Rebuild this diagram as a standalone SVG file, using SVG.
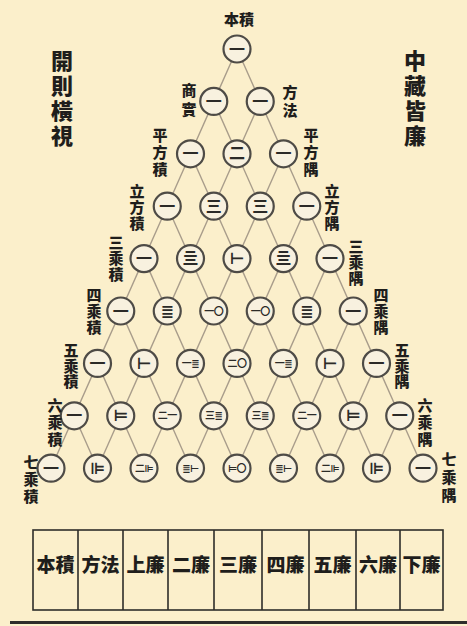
<svg xmlns="http://www.w3.org/2000/svg" width="467" height="626" viewBox="0 0 467 626">
<style>
.edge{stroke:#a99d8b;stroke-width:1.4;fill:none}
.ring{fill:#f8f1df;stroke:#4e4b46;stroke-width:2.2}
.num{font-family:"Noto Sans CJK SC","DejaVu Sans",sans-serif;fill:#2b2a28;text-anchor:middle;font-weight:700}
.s{font-size:16px}
.t{font-size:10px;letter-spacing:-0.5px}
.lbl{font-family:"Noto Sans CJK TC","Noto Sans CJK SC",sans-serif;font-weight:900;fill:#1f1e1c;text-anchor:middle;font-size:15px}
.v{writing-mode:vertical-rl;text-anchor:start}
.hd{font-size:22px;letter-spacing:3px}
.cell{font-size:19px}
.box{fill:none;stroke:#2e2d2a;stroke-width:1.6}
</style>
<defs>
<path id="fork" d="M0 0L-23.25 52.4M0 0L23.25 52.4"/>
<circle id="ring" r="13.5" class="ring"/>
</defs>
<rect width="467" height="626" fill="#fbefcb"/>

<g id="connectors" class="edge">
<use href="#fork" x="237" y="49"/>
<use href="#fork" x="213.75" y="101.4"/><use href="#fork" x="260.25" y="101.4"/>
<use href="#fork" x="190.5" y="153.8"/><use href="#fork" x="237" y="153.8"/><use href="#fork" x="283.5" y="153.8"/>
<use href="#fork" x="167.25" y="206.2"/><use href="#fork" x="213.75" y="206.2"/><use href="#fork" x="260.25" y="206.2"/><use href="#fork" x="306.75" y="206.2"/>
<use href="#fork" x="144" y="258.6"/><use href="#fork" x="190.5" y="258.6"/><use href="#fork" x="237" y="258.6"/><use href="#fork" x="283.5" y="258.6"/><use href="#fork" x="330" y="258.6"/>
<use href="#fork" x="120.75" y="311"/><use href="#fork" x="167.25" y="311"/><use href="#fork" x="213.75" y="311"/><use href="#fork" x="260.25" y="311"/><use href="#fork" x="306.75" y="311"/><use href="#fork" x="353.25" y="311"/>
<use href="#fork" x="97.5" y="363.4"/><use href="#fork" x="144" y="363.4"/><use href="#fork" x="190.5" y="363.4"/><use href="#fork" x="237" y="363.4"/><use href="#fork" x="283.5" y="363.4"/><use href="#fork" x="330" y="363.4"/><use href="#fork" x="376.5" y="363.4"/>
<use href="#fork" x="74.25" y="415.8"/><use href="#fork" x="120.75" y="415.8"/><use href="#fork" x="167.25" y="415.8"/><use href="#fork" x="213.75" y="415.8"/><use href="#fork" x="260.25" y="415.8"/><use href="#fork" x="306.75" y="415.8"/><use href="#fork" x="353.25" y="415.8"/><use href="#fork" x="399.75" y="415.8"/>
</g>

<g id="n0-0" transform="translate(237,49)"><use href="#ring"/><text class="num s" y="5.5">一</text></g>

<g id="n1-0" transform="translate(213.75,101.4)"><use href="#ring"/><text class="num s" y="5.5">一</text></g>
<g id="n1-1" transform="translate(260.25,101.4)"><use href="#ring"/><text class="num s" y="5.5">一</text></g>

<g id="n2-0" transform="translate(190.5,153.8)"><use href="#ring"/><text class="num s" y="5.5">一</text></g>
<g id="n2-1" transform="translate(237,153.8)"><use href="#ring"/><text class="num s" y="5.5">二</text></g>
<g id="n2-2" transform="translate(283.5,153.8)"><use href="#ring"/><text class="num s" y="5.5">一</text></g>

<g id="n3-0" transform="translate(167.25,206.2)"><use href="#ring"/><text class="num s" y="5.5">一</text></g>
<g id="n3-1" transform="translate(213.75,206.2)"><use href="#ring"/><text class="num s" y="5.5">三</text></g>
<g id="n3-2" transform="translate(260.25,206.2)"><use href="#ring"/><text class="num s" y="5.5">三</text></g>
<g id="n3-3" transform="translate(306.75,206.2)"><use href="#ring"/><text class="num s" y="5.5">一</text></g>

<g id="n4-0" transform="translate(144,258.6)"><use href="#ring"/><text class="num s" y="5.5">一</text></g>
<g id="n4-1" transform="translate(190.5,258.6)"><use href="#ring"/><text class="num s" y="5.5">亖</text></g>
<g id="n4-2" transform="translate(237,258.6)"><use href="#ring"/><text class="num s" y="5.5">⊢</text></g>
<g id="n4-3" transform="translate(283.5,258.6)"><use href="#ring"/><text class="num s" y="5.5">亖</text></g>
<g id="n4-4" transform="translate(330,258.6)"><use href="#ring"/><text class="num s" y="5.5">一</text></g>

<g id="n5-0" transform="translate(120.75,311)"><use href="#ring"/><text class="num s" y="5.5">一</text></g>
<g id="n5-1" transform="translate(167.25,311)"><use href="#ring"/><text class="num s" y="5.5">≣</text></g>
<g id="n5-2" transform="translate(213.75,311)"><use href="#ring"/><text class="num t" y="3.5">一〇</text></g>
<g id="n5-3" transform="translate(260.25,311)"><use href="#ring"/><text class="num t" y="3.5">一〇</text></g>
<g id="n5-4" transform="translate(306.75,311)"><use href="#ring"/><text class="num s" y="5.5">≣</text></g>
<g id="n5-5" transform="translate(353.25,311)"><use href="#ring"/><text class="num s" y="5.5">一</text></g>

<g id="n6-0" transform="translate(97.5,363.4)"><use href="#ring"/><text class="num s" y="5.5">一</text></g>
<g id="n6-1" transform="translate(144,363.4)"><use href="#ring"/><text class="num s" y="5.5">⊢</text></g>
<g id="n6-2" transform="translate(190.5,363.4)"><use href="#ring"/><text class="num t" y="3.5">一≣</text></g>
<g id="n6-3" transform="translate(237,363.4)"><use href="#ring"/><text class="num t" y="3.5">二〇</text></g>
<g id="n6-4" transform="translate(283.5,363.4)"><use href="#ring"/><text class="num t" y="3.5">一≣</text></g>
<g id="n6-5" transform="translate(330,363.4)"><use href="#ring"/><text class="num s" y="5.5">⊢</text></g>
<g id="n6-6" transform="translate(376.5,363.4)"><use href="#ring"/><text class="num s" y="5.5">一</text></g>

<g id="n7-0" transform="translate(74.25,415.8)"><use href="#ring"/><text class="num s" y="5.5">一</text></g>
<g id="n7-1" transform="translate(120.75,415.8)"><use href="#ring"/><text class="num s" y="5.5">⊨</text></g>
<g id="n7-2" transform="translate(167.25,415.8)"><use href="#ring"/><text class="num t" y="3.5">二一</text></g>
<g id="n7-3" transform="translate(213.75,415.8)"><use href="#ring"/><text class="num t" y="3.5">三≣</text></g>
<g id="n7-4" transform="translate(260.25,415.8)"><use href="#ring"/><text class="num t" y="3.5">三≣</text></g>
<g id="n7-5" transform="translate(306.75,415.8)"><use href="#ring"/><text class="num t" y="3.5">二一</text></g>
<g id="n7-6" transform="translate(353.25,415.8)"><use href="#ring"/><text class="num s" y="5.5">⊨</text></g>
<g id="n7-7" transform="translate(399.75,415.8)"><use href="#ring"/><text class="num s" y="5.5">一</text></g>

<g id="n8-0" transform="translate(51,468.2)"><use href="#ring"/><text class="num s" y="5.5">一</text></g>
<g id="n8-1" transform="translate(97.5,468.2)"><use href="#ring"/><text class="num s" y="5.5">⊫</text></g>
<g id="n8-2" transform="translate(144,468.2)"><use href="#ring"/><text class="num t" y="3.5">二⊫</text></g>
<g id="n8-3" transform="translate(190.5,468.2)"><use href="#ring"/><text class="num t" y="3.5">≣⊢</text></g>
<g id="n8-4" transform="translate(237,468.2)"><use href="#ring"/><text class="num t" y="3.5">⊨〇</text></g>
<g id="n8-5" transform="translate(283.5,468.2)"><use href="#ring"/><text class="num t" y="3.5">≣⊢</text></g>
<g id="n8-6" transform="translate(330,468.2)"><use href="#ring"/><text class="num t" y="3.5">二⊫</text></g>
<g id="n8-7" transform="translate(376.5,468.2)"><use href="#ring"/><text class="num s" y="5.5">⊫</text></g>
<g id="n8-8" transform="translate(423,468.2)"><use href="#ring"/><text class="num s" y="5.5">一</text></g>

<g id="labels">
<text class="lbl" x="239" y="25" font-size="17">本積</text>
<text class="lbl v hd" x="62" y="50">開則橫視</text>
<text class="lbl v hd" x="415" y="50">中藏皆廉</text>
<text class="lbl v" x="189" y="83" letter-spacing="4">商實</text>
<text class="lbl v" x="290" y="85" letter-spacing="3">方法</text>
<text class="lbl v" x="160" y="128" letter-spacing="2">平方積</text>
<text class="lbl v" x="311" y="128" letter-spacing="2">平方隅</text>
<text class="lbl v" x="137" y="184" letter-spacing="1">立方積</text>
<text class="lbl v" x="332" y="184" letter-spacing="1">立方隅</text>
<text class="lbl v" x="116" y="235" letter-spacing="1">三乘積</text>
<text class="lbl v" x="356" y="239" letter-spacing="1">三乘隅</text>
<text class="lbl v" x="94" y="288" letter-spacing="1">四乘積</text>
<text class="lbl v" x="381" y="288" letter-spacing="1">四乘隅</text>
<text class="lbl v" x="71" y="343" letter-spacing="0.5">五乘積</text>
<text class="lbl v" x="402" y="343" letter-spacing="0.5">五乘隅</text>
<text class="lbl v" x="55" y="398" letter-spacing="2">六乘積</text>
<text class="lbl v" x="425" y="398" letter-spacing="2">六乘隅</text>
<text class="lbl v" x="31" y="455" letter-spacing="2">七乘積</text>
<text class="lbl v" x="449" y="452" letter-spacing="3">七乘隅</text>
</g>

<g id="table">
<rect class="box" x="33" y="530" width="410" height="80"/>
<path class="box" d="M78 530V610M123 530V610M168 530V610M214 530V610M262 530V610M309 530V610M356 530V610M400 530V610"/>
<text class="lbl cell" x="55.5" y="572">本積</text>
<text class="lbl cell" x="100.5" y="572">方法</text>
<text class="lbl cell" x="145.5" y="572">上廉</text>
<text class="lbl cell" x="191" y="572">二廉</text>
<text class="lbl cell" x="238" y="572">三廉</text>
<text class="lbl cell" x="285.5" y="572">四廉</text>
<text class="lbl cell" x="332.5" y="572">五廉</text>
<text class="lbl cell" x="378" y="572">六廉</text>
<text class="lbl cell" x="421.5" y="572">下廉</text>
</g>
<path d="M10 622.5H467" stroke="#2e2d2a" stroke-width="3"/>
</svg>
